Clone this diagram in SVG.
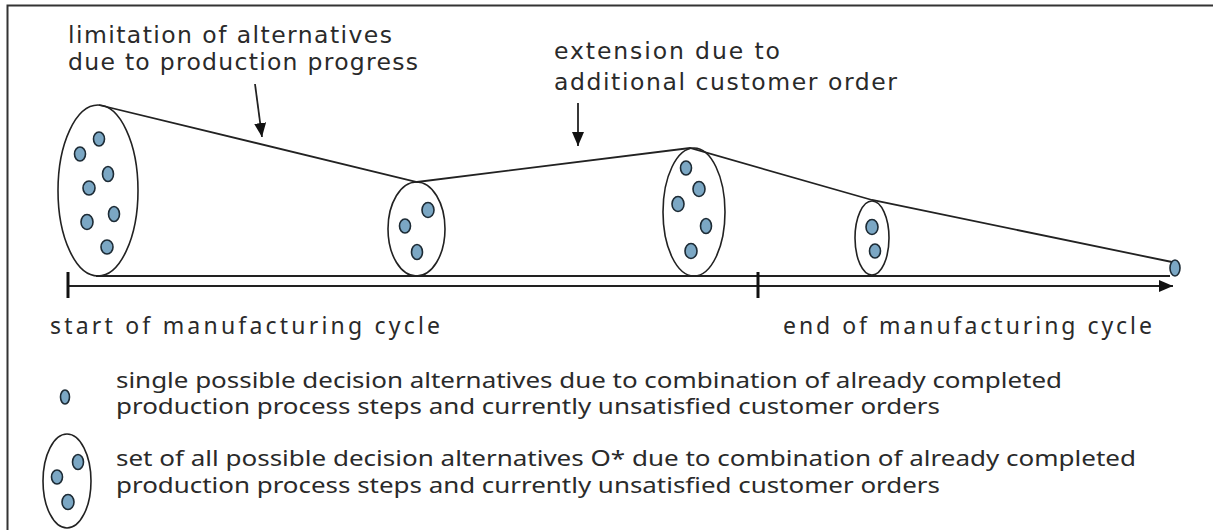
<svg xmlns="http://www.w3.org/2000/svg" width="1214" height="530" viewBox="0 0 1214 530">
  <defs>
    <style>
      .txt { fill: #2a2a2a; white-space: pre; }
      .lbl { font-family: "DejaVu Sans", Verdana, sans-serif; font-size: 23.5px; }
      .leg { font-family: "Noto Sans", "DejaVu Sans", sans-serif; font-size: 21px; }
      .set { fill: none; stroke: #222; stroke-width: 1.6; }
      .alt { fill: #7ba7c4; stroke: #1d2b35; stroke-width: 1.6; }
      .ln { fill: none; stroke: #222; stroke-width: 1.8; }
    </style>
    <marker id="head" viewBox="0 0 14 12" refX="14" refY="6" markerWidth="14" markerHeight="12" markerUnits="userSpaceOnUse" orient="auto">
      <path d="M0,0 L14,6 L0,12 Z" fill="#111"/>
    </marker>
  </defs>

  <rect width="1214" height="530" fill="#fff"/>
  <!-- frame -->
  <path d="M7.5,530 V5.5 H1213" fill="none" stroke="#333" stroke-width="2"/>

  <!-- connectors: envelope, baseline, time axis, pointer arrows -->
  <g id="connectors">
    <polyline class="ln" points="99,105 417,182 690,148 872,200 1172,262"/>
    <line class="ln" x1="96" y1="276" x2="1170" y2="276"/>
    <line class="ln" x1="68" y1="286" x2="1173" y2="286" marker-end="url(#head)"/>
    <line x1="68" y1="272" x2="68" y2="298" stroke="#111" stroke-width="3"/>
    <line x1="758" y1="272" x2="758" y2="298" stroke="#111" stroke-width="3"/>
    <line class="ln" x1="255" y1="84" x2="262" y2="137" marker-end="url(#head)"/>
    <line class="ln" x1="578" y1="103" x2="578" y2="146" marker-end="url(#head)"/>
  </g>

  <g id="set1">
    <ellipse class="set" cx="98" cy="190.5" rx="40" ry="85.5"/>
    <ellipse class="alt" cx="99" cy="139" rx="5.5" ry="7"/>
    <ellipse class="alt" cx="80" cy="154" rx="5.5" ry="7"/>
    <ellipse class="alt" cx="108" cy="174" rx="5.5" ry="7.5"/>
    <ellipse class="alt" cx="89" cy="188" rx="6" ry="7"/>
    <ellipse class="alt" cx="114" cy="214" rx="5.5" ry="7.5"/>
    <ellipse class="alt" cx="87" cy="222" rx="6" ry="7.5"/>
    <ellipse class="alt" cx="107" cy="247" rx="6" ry="7"/>
  </g>

  <g id="set2">
    <ellipse class="set" cx="416.5" cy="229" rx="28.5" ry="47"/>
    <ellipse class="alt" cx="428" cy="210" rx="6" ry="7.5"/>
    <ellipse class="alt" cx="405" cy="226" rx="5.5" ry="7"/>
    <ellipse class="alt" cx="417" cy="252" rx="5.5" ry="7.5"/>
  </g>

  <g id="set3">
    <ellipse class="set" cx="694" cy="212" rx="31" ry="64"/>
    <ellipse class="alt" cx="686" cy="168" rx="5.5" ry="7"/>
    <ellipse class="alt" cx="699" cy="189" rx="6" ry="7.5"/>
    <ellipse class="alt" cx="678" cy="204" rx="6" ry="7.5"/>
    <ellipse class="alt" cx="706" cy="226" rx="5.5" ry="7.5"/>
    <ellipse class="alt" cx="691" cy="251" rx="6" ry="7.5"/>
  </g>

  <g id="set4">
    <ellipse class="set" cx="872" cy="238" rx="17" ry="37"/>
    <ellipse class="alt" cx="872" cy="227" rx="6" ry="7.5"/>
    <ellipse class="alt" cx="875" cy="251" rx="5.5" ry="7"/>
  </g>

  <g id="final">
    <ellipse class="alt" cx="1175" cy="268" rx="5" ry="8"/>
  </g>

  <g id="label-limitation" class="txt lbl">
    <text x="68" y="43" textLength="324" lengthAdjust="spacing">limitation  of alternatives</text>
    <text x="68" y="70" textLength="350" lengthAdjust="spacing">due to production progress</text>
  </g>

  <g id="label-extension" class="txt lbl">
    <text x="554" y="59" textLength="226" lengthAdjust="spacing">extension  due to</text>
    <text x="554" y="90" textLength="343" lengthAdjust="spacing">additional  customer  order</text>
  </g>

  <g id="label-start" class="txt leg" style="font-size:23px">
    <text x="50" y="334" textLength="390" lengthAdjust="spacing">start of manufacturing   cycle</text>
  </g>
  <g id="label-end" class="txt leg" style="font-size:23px">
    <text x="783" y="334" textLength="369" lengthAdjust="spacing">end of manufacturing   cycle</text>
  </g>

  <g id="legend-single">
    <ellipse class="alt" cx="65" cy="397" rx="4.5" ry="7"/>
    <g class="txt leg">
      <text x="116" y="388" textLength="946" lengthAdjust="spacingAndGlyphs">single possible decision alternatives due to combination of already completed</text>
      <text x="116" y="414" textLength="824" lengthAdjust="spacingAndGlyphs">production process steps and currently unsatisfied customer orders</text>
    </g>
  </g>

  <g id="legend-set">
    <ellipse class="set" cx="67" cy="481" rx="24" ry="47"/>
    <ellipse class="alt" cx="78" cy="462" rx="5.5" ry="7.5"/>
    <ellipse class="alt" cx="57" cy="477" rx="5.5" ry="7"/>
    <ellipse class="alt" cx="68" cy="502" rx="6" ry="7.5"/>
    <g class="txt leg">
      <text x="116" y="466" textLength="1020" lengthAdjust="spacingAndGlyphs">set of all possible decision alternatives O* due to combination of already completed</text>
      <text x="116" y="493" textLength="824" lengthAdjust="spacingAndGlyphs">production process steps and currently unsatisfied customer orders</text>
    </g>
  </g>
</svg>
